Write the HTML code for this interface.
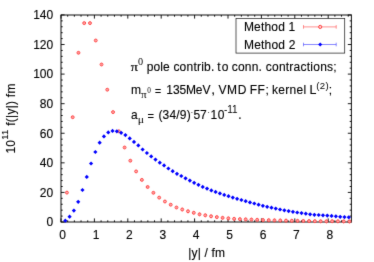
<!DOCTYPE html>
<html><head><meta charset="utf-8"><style>
html,body{margin:0;padding:0;background:#fff;}
svg{display:block;filter:url(#soft)}
text{stroke:#000;stroke-width:0.12px}
</style></head><body>
<svg width="374" height="262" viewBox="0 0 374 262">
<defs><filter id="soft" x="0" y="0" width="100%" height="100%" color-interpolation-filters="sRGB"><feConvolveMatrix order="3" kernelMatrix="0.01 0.07 0.01 0.07 0.68 0.07 0.01 0.07 0.01" edgeMode="duplicate" preserveAlpha="true"/></filter></defs>
<rect width="374" height="262" fill="#fff"/>
<rect x="61.0" y="15.0" width="290.4" height="207.0" fill="none" stroke="#1a1a1a" stroke-width="1.05"/>
<path d="M61.00 222.0v-3.6M61.00 15.0v3.6M67.68 222.0v-1.7M67.68 15.0v1.7M74.36 222.0v-1.7M74.36 15.0v1.7M81.04 222.0v-1.7M81.04 15.0v1.7M87.72 222.0v-1.7M87.72 15.0v1.7M94.40 222.0v-3.6M94.40 15.0v3.6M101.08 222.0v-1.7M101.08 15.0v1.7M107.76 222.0v-1.7M107.76 15.0v1.7M114.44 222.0v-1.7M114.44 15.0v1.7M121.12 222.0v-1.7M121.12 15.0v1.7M127.80 222.0v-3.6M127.80 15.0v3.6M134.48 222.0v-1.7M134.48 15.0v1.7M141.16 222.0v-1.7M141.16 15.0v1.7M147.84 222.0v-1.7M147.84 15.0v1.7M154.52 222.0v-1.7M154.52 15.0v1.7M161.20 222.0v-3.6M161.20 15.0v3.6M167.88 222.0v-1.7M167.88 15.0v1.7M174.56 222.0v-1.7M174.56 15.0v1.7M181.24 222.0v-1.7M181.24 15.0v1.7M187.92 222.0v-1.7M187.92 15.0v1.7M194.60 222.0v-3.6M194.60 15.0v3.6M201.28 222.0v-1.7M201.28 15.0v1.7M207.96 222.0v-1.7M207.96 15.0v1.7M214.64 222.0v-1.7M214.64 15.0v1.7M221.32 222.0v-1.7M221.32 15.0v1.7M228.00 222.0v-3.6M228.00 15.0v3.6M234.68 222.0v-1.7M234.68 15.0v1.7M241.36 222.0v-1.7M241.36 15.0v1.7M248.04 222.0v-1.7M248.04 15.0v1.7M254.72 222.0v-1.7M254.72 15.0v1.7M261.40 222.0v-3.6M261.40 15.0v3.6M268.08 222.0v-1.7M268.08 15.0v1.7M274.76 222.0v-1.7M274.76 15.0v1.7M281.44 222.0v-1.7M281.44 15.0v1.7M288.12 222.0v-1.7M288.12 15.0v1.7M294.80 222.0v-3.6M294.80 15.0v3.6M301.48 222.0v-1.7M301.48 15.0v1.7M308.16 222.0v-1.7M308.16 15.0v1.7M314.84 222.0v-1.7M314.84 15.0v1.7M321.52 222.0v-1.7M321.52 15.0v1.7M328.20 222.0v-3.6M328.20 15.0v3.6M334.88 222.0v-1.7M334.88 15.0v1.7M341.56 222.0v-1.7M341.56 15.0v1.7M348.24 222.0v-1.7M348.24 15.0v1.7M61.0 222.00h3.6M351.4 222.00h-3.6M61.0 216.08h1.7M351.4 216.08h-1.7M61.0 210.17h1.7M351.4 210.17h-1.7M61.0 204.25h1.7M351.4 204.25h-1.7M61.0 198.34h1.7M351.4 198.34h-1.7M61.0 192.42h3.6M351.4 192.42h-3.6M61.0 186.50h1.7M351.4 186.50h-1.7M61.0 180.59h1.7M351.4 180.59h-1.7M61.0 174.67h1.7M351.4 174.67h-1.7M61.0 168.76h1.7M351.4 168.76h-1.7M61.0 162.84h3.6M351.4 162.84h-3.6M61.0 156.92h1.7M351.4 156.92h-1.7M61.0 151.01h1.7M351.4 151.01h-1.7M61.0 145.09h1.7M351.4 145.09h-1.7M61.0 139.18h1.7M351.4 139.18h-1.7M61.0 133.26h3.6M351.4 133.26h-3.6M61.0 127.34h1.7M351.4 127.34h-1.7M61.0 121.43h1.7M351.4 121.43h-1.7M61.0 115.51h1.7M351.4 115.51h-1.7M61.0 109.60h1.7M351.4 109.60h-1.7M61.0 103.68h3.6M351.4 103.68h-3.6M61.0 97.76h1.7M351.4 97.76h-1.7M61.0 91.85h1.7M351.4 91.85h-1.7M61.0 85.93h1.7M351.4 85.93h-1.7M61.0 80.02h1.7M351.4 80.02h-1.7M61.0 74.10h3.6M351.4 74.10h-3.6M61.0 68.18h1.7M351.4 68.18h-1.7M61.0 62.27h1.7M351.4 62.27h-1.7M61.0 56.35h1.7M351.4 56.35h-1.7M61.0 50.44h1.7M351.4 50.44h-1.7M61.0 44.52h3.6M351.4 44.52h-3.6M61.0 38.60h1.7M351.4 38.60h-1.7M61.0 32.69h1.7M351.4 32.69h-1.7M61.0 26.77h1.7M351.4 26.77h-1.7M61.0 20.86h1.7M351.4 20.86h-1.7M61.0 14.94h3.6M351.4 14.94h-3.6" stroke="#000" stroke-width="0.9" fill="none"/>
<circle cx="66.92" cy="192.60" r="1.45" fill="#ffd0d0" stroke="#ff3c3c" stroke-width="0.95"/>
<path d="M66.92 191.40V193.80" stroke="#ff5050" stroke-width="0.5"/>
<circle cx="72.68" cy="117.20" r="1.45" fill="#ffd0d0" stroke="#ff3c3c" stroke-width="0.95"/>
<path d="M72.68 116.00V118.40" stroke="#ff5050" stroke-width="0.5"/>
<circle cx="78.45" cy="52.80" r="1.45" fill="#ffd0d0" stroke="#ff3c3c" stroke-width="0.95"/>
<path d="M78.45 51.60V54.00" stroke="#ff5050" stroke-width="0.5"/>
<circle cx="84.21" cy="23.10" r="1.45" fill="#ffd0d0" stroke="#ff3c3c" stroke-width="0.95"/>
<path d="M84.21 21.90V24.30" stroke="#ff5050" stroke-width="0.5"/>
<circle cx="89.98" cy="23.10" r="1.45" fill="#ffd0d0" stroke="#ff3c3c" stroke-width="0.95"/>
<path d="M89.98 21.90V24.30" stroke="#ff5050" stroke-width="0.5"/>
<circle cx="95.75" cy="40.50" r="1.45" fill="#ffd0d0" stroke="#ff3c3c" stroke-width="0.95"/>
<path d="M95.75 39.30V41.70" stroke="#ff5050" stroke-width="0.5"/>
<circle cx="101.51" cy="64.50" r="1.45" fill="#ffd0d0" stroke="#ff3c3c" stroke-width="0.95"/>
<path d="M101.51 63.30V65.70" stroke="#ff5050" stroke-width="0.5"/>
<circle cx="107.28" cy="89.70" r="1.45" fill="#ffd0d0" stroke="#ff3c3c" stroke-width="0.95"/>
<path d="M107.28 88.50V90.90" stroke="#ff5050" stroke-width="0.5"/>
<circle cx="113.04" cy="112.10" r="1.45" fill="#ffd0d0" stroke="#ff3c3c" stroke-width="0.95"/>
<path d="M113.04 110.90V113.30" stroke="#ff5050" stroke-width="0.5"/>
<circle cx="118.81" cy="131.30" r="1.45" fill="#ffd0d0" stroke="#ff3c3c" stroke-width="0.95"/>
<path d="M118.81 130.10V132.50" stroke="#ff5050" stroke-width="0.5"/>
<circle cx="124.58" cy="147.50" r="1.45" fill="#ffd0d0" stroke="#ff3c3c" stroke-width="0.95"/>
<path d="M124.58 146.30V148.70" stroke="#ff5050" stroke-width="0.5"/>
<circle cx="130.34" cy="160.70" r="1.45" fill="#ffd0d0" stroke="#ff3c3c" stroke-width="0.95"/>
<path d="M130.34 159.50V161.90" stroke="#ff5050" stroke-width="0.5"/>
<circle cx="136.11" cy="171.40" r="1.45" fill="#ffd0d0" stroke="#ff3c3c" stroke-width="0.95"/>
<path d="M136.11 170.20V172.60" stroke="#ff5050" stroke-width="0.5"/>
<circle cx="141.87" cy="179.90" r="1.45" fill="#ffd0d0" stroke="#ff3c3c" stroke-width="0.95"/>
<path d="M141.87 178.70V181.10" stroke="#ff5050" stroke-width="0.5"/>
<circle cx="147.64" cy="187.00" r="1.45" fill="#ffd0d0" stroke="#ff3c3c" stroke-width="0.95"/>
<path d="M147.64 185.80V188.20" stroke="#ff5050" stroke-width="0.5"/>
<circle cx="153.41" cy="192.80" r="1.45" fill="#ffd0d0" stroke="#ff3c3c" stroke-width="0.95"/>
<path d="M153.41 191.60V194.00" stroke="#ff5050" stroke-width="0.5"/>
<circle cx="159.17" cy="197.60" r="1.45" fill="#ffd0d0" stroke="#ff3c3c" stroke-width="0.95"/>
<path d="M159.17 196.40V198.80" stroke="#ff5050" stroke-width="0.5"/>
<circle cx="164.94" cy="201.50" r="1.45" fill="#ffd0d0" stroke="#ff3c3c" stroke-width="0.95"/>
<path d="M164.94 200.30V202.70" stroke="#ff5050" stroke-width="0.5"/>
<circle cx="170.70" cy="204.70" r="1.45" fill="#ffd0d0" stroke="#ff3c3c" stroke-width="0.95"/>
<path d="M170.70 203.50V205.90" stroke="#ff5050" stroke-width="0.5"/>
<circle cx="176.47" cy="207.50" r="1.45" fill="#ffd0d0" stroke="#ff3c3c" stroke-width="0.95"/>
<path d="M176.47 206.30V208.70" stroke="#ff5050" stroke-width="0.5"/>
<circle cx="182.24" cy="209.50" r="1.45" fill="#ffd0d0" stroke="#ff3c3c" stroke-width="0.95"/>
<path d="M182.24 207.50V211.50" stroke="#ff5050" stroke-width="0.5"/>
<circle cx="188.00" cy="211.30" r="1.45" fill="#ffd0d0" stroke="#ff3c3c" stroke-width="0.95"/>
<path d="M188.00 209.30V213.30" stroke="#ff5050" stroke-width="0.5"/>
<circle cx="193.77" cy="212.80" r="1.45" fill="#ffd0d0" stroke="#ff3c3c" stroke-width="0.95"/>
<path d="M193.77 210.80V214.80" stroke="#ff5050" stroke-width="0.5"/>
<circle cx="199.53" cy="214.30" r="1.45" fill="#ffd0d0" stroke="#ff3c3c" stroke-width="0.95"/>
<path d="M199.53 212.30V216.30" stroke="#ff5050" stroke-width="0.5"/>
<circle cx="205.30" cy="215.30" r="1.45" fill="#ffd0d0" stroke="#ff3c3c" stroke-width="0.95"/>
<path d="M205.30 213.30V217.30" stroke="#ff5050" stroke-width="0.5"/>
<circle cx="211.07" cy="216.30" r="1.45" fill="#ffd0d0" stroke="#ff3c3c" stroke-width="0.95"/>
<path d="M211.07 214.30V218.30" stroke="#ff5050" stroke-width="0.5"/>
<circle cx="216.83" cy="217.10" r="1.45" fill="#ffd0d0" stroke="#ff3c3c" stroke-width="0.95"/>
<path d="M216.83 215.10V219.10" stroke="#ff5050" stroke-width="0.5"/>
<circle cx="222.60" cy="217.85" r="1.45" fill="#ffd0d0" stroke="#ff3c3c" stroke-width="0.95"/>
<path d="M222.60 215.85V219.85" stroke="#ff5050" stroke-width="0.5"/>
<circle cx="228.36" cy="218.35" r="1.45" fill="#ffd0d0" stroke="#ff3c3c" stroke-width="0.95"/>
<path d="M228.36 216.35V220.35" stroke="#ff5050" stroke-width="0.5"/>
<circle cx="234.13" cy="218.85" r="1.45" fill="#ffd0d0" stroke="#ff3c3c" stroke-width="0.95"/>
<path d="M234.13 216.85V220.85" stroke="#ff5050" stroke-width="0.5"/>
<circle cx="239.90" cy="219.15" r="1.45" fill="#ffd0d0" stroke="#ff3c3c" stroke-width="0.95"/>
<path d="M239.90 217.15V221.15" stroke="#ff5050" stroke-width="0.5"/>
<circle cx="245.66" cy="219.38" r="1.45" fill="#ffd0d0" stroke="#ff3c3c" stroke-width="0.95"/>
<path d="M245.66 217.38V221.38" stroke="#ff5050" stroke-width="0.5"/>
<circle cx="251.43" cy="219.60" r="1.45" fill="#ffd0d0" stroke="#ff3c3c" stroke-width="0.95"/>
<path d="M251.43 217.60V221.60" stroke="#ff5050" stroke-width="0.5"/>
<circle cx="257.19" cy="219.83" r="1.45" fill="#ffd0d0" stroke="#ff3c3c" stroke-width="0.95"/>
<path d="M257.19 217.83V221.83" stroke="#ff5050" stroke-width="0.5"/>
<circle cx="262.96" cy="220.05" r="1.45" fill="#ffd0d0" stroke="#ff3c3c" stroke-width="0.95"/>
<path d="M262.96 218.05V222.05" stroke="#ff5050" stroke-width="0.5"/>
<circle cx="268.73" cy="220.19" r="1.45" fill="#ffd0d0" stroke="#ff3c3c" stroke-width="0.95"/>
<path d="M268.73 218.19V222.19" stroke="#ff5050" stroke-width="0.5"/>
<circle cx="274.49" cy="220.33" r="1.45" fill="#ffd0d0" stroke="#ff3c3c" stroke-width="0.95"/>
<path d="M274.49 218.33V222.33" stroke="#ff5050" stroke-width="0.5"/>
<circle cx="280.26" cy="220.47" r="1.45" fill="#ffd0d0" stroke="#ff3c3c" stroke-width="0.95"/>
<path d="M280.26 218.47V222.47" stroke="#ff5050" stroke-width="0.5"/>
<circle cx="286.02" cy="220.61" r="1.45" fill="#ffd0d0" stroke="#ff3c3c" stroke-width="0.95"/>
<path d="M286.02 218.61V222.61" stroke="#ff5050" stroke-width="0.5"/>
<circle cx="291.79" cy="220.75" r="1.45" fill="#ffd0d0" stroke="#ff3c3c" stroke-width="0.95"/>
<path d="M291.79 218.75V222.75" stroke="#ff5050" stroke-width="0.5"/>
<circle cx="297.56" cy="220.85" r="1.45" fill="#ffd0d0" stroke="#ff3c3c" stroke-width="0.95"/>
<path d="M297.56 218.85V222.85" stroke="#ff5050" stroke-width="0.5"/>
<circle cx="303.32" cy="220.95" r="1.45" fill="#ffd0d0" stroke="#ff3c3c" stroke-width="0.95"/>
<path d="M303.32 218.95V222.95" stroke="#ff5050" stroke-width="0.5"/>
<circle cx="309.09" cy="221.05" r="1.45" fill="#ffd0d0" stroke="#ff3c3c" stroke-width="0.95"/>
<path d="M309.09 219.05V223.05" stroke="#ff5050" stroke-width="0.5"/>
<circle cx="314.85" cy="221.15" r="1.45" fill="#ffd0d0" stroke="#ff3c3c" stroke-width="0.95"/>
<path d="M314.85 219.15V223.15" stroke="#ff5050" stroke-width="0.5"/>
<circle cx="320.62" cy="221.25" r="1.45" fill="#ffd0d0" stroke="#ff3c3c" stroke-width="0.95"/>
<path d="M320.62 219.25V223.25" stroke="#ff5050" stroke-width="0.5"/>
<circle cx="326.39" cy="221.35" r="1.45" fill="#ffd0d0" stroke="#ff3c3c" stroke-width="0.95"/>
<path d="M326.39 219.35V223.35" stroke="#ff5050" stroke-width="0.5"/>
<circle cx="332.15" cy="221.20" r="1.45" fill="#ffd0d0" stroke="#ff3c3c" stroke-width="0.95"/>
<path d="M332.15 219.20V223.20" stroke="#ff5050" stroke-width="0.5"/>
<circle cx="337.92" cy="221.30" r="1.45" fill="#ffd0d0" stroke="#ff3c3c" stroke-width="0.95"/>
<path d="M337.92 219.30V223.30" stroke="#ff5050" stroke-width="0.5"/>
<circle cx="343.68" cy="221.40" r="1.45" fill="#ffd0d0" stroke="#ff3c3c" stroke-width="0.95"/>
<path d="M343.68 219.40V223.40" stroke="#ff5050" stroke-width="0.5"/>
<circle cx="349.45" cy="221.50" r="1.45" fill="#ffd0d0" stroke="#ff3c3c" stroke-width="0.95"/>
<path d="M349.45 219.50V223.50" stroke="#ff5050" stroke-width="0.5"/>
<path d="M65.30 218.60L67.39 220.70L65.30 222.80L63.20 220.70Z" fill="#0000ff"/>
<path d="M69.59 214.60L71.69 216.70L69.59 218.80L67.49 216.70Z" fill="#0000ff"/>
<path d="M73.89 208.50L75.98 210.60L73.89 212.70L71.79 210.60Z" fill="#0000ff"/>
<path d="M78.18 199.70L80.28 201.80L78.18 203.90L76.08 201.80Z" fill="#0000ff"/>
<path d="M82.47 187.90L84.57 190.00L82.47 192.10L80.38 190.00Z" fill="#0000ff"/>
<path d="M86.77 174.80L88.87 176.90L86.77 179.00L84.67 176.90Z" fill="#0000ff"/>
<path d="M91.06 161.40L93.16 163.50L91.06 165.60L88.97 163.50Z" fill="#0000ff"/>
<path d="M95.36 149.90L97.46 152.00L95.36 154.10L93.26 152.00Z" fill="#0000ff"/>
<path d="M99.66 140.60L101.75 142.70L99.66 144.80L97.56 142.70Z" fill="#0000ff"/>
<path d="M103.95 134.30L106.05 136.40L103.95 138.50L101.85 136.40Z" fill="#0000ff"/>
<path d="M108.25 130.35L110.34 132.45L108.25 134.55L106.15 132.45Z" fill="#0000ff"/>
<path d="M112.54 128.80L114.64 130.90L112.54 133.00L110.44 130.90Z" fill="#0000ff"/>
<path d="M116.84 129.20L118.94 131.30L116.84 133.40L114.74 131.30Z" fill="#0000ff"/>
<path d="M121.13 130.70L123.23 132.80L121.13 134.90L119.03 132.80Z" fill="#0000ff"/>
<path d="M125.42 133.00L127.52 135.10L125.42 137.20L123.33 135.10Z" fill="#0000ff"/>
<path d="M129.72 136.30L131.82 138.40L129.72 140.50L127.62 138.40Z" fill="#0000ff"/>
<path d="M134.01 139.80L136.11 141.90L134.01 144.00L131.91 141.90Z" fill="#0000ff"/>
<path d="M138.31 143.30L140.41 145.40L138.31 147.50L136.21 145.40Z" fill="#0000ff"/>
<path d="M142.61 147.40L144.71 149.50L142.61 151.60L140.51 149.50Z" fill="#0000ff"/>
<path d="M146.90 150.90L149.00 153.00L146.90 155.10L144.80 153.00Z" fill="#0000ff"/>
<path d="M151.19 154.30L153.29 156.40L151.19 158.50L149.09 156.40Z" fill="#0000ff"/>
<path d="M155.49 157.50L157.59 159.60L155.49 161.70L153.39 159.60Z" fill="#0000ff"/>
<path d="M159.78 160.60L161.88 162.70L159.78 164.80L157.69 162.70Z" fill="#0000ff"/>
<path d="M164.08 163.30L166.18 165.40L164.08 167.50L161.98 165.40Z" fill="#0000ff"/>
<path d="M168.38 166.40L170.47 168.50L168.38 170.60L166.28 168.50Z" fill="#0000ff"/>
<path d="M172.67 169.10L174.77 171.20L172.67 173.30L170.57 171.20Z" fill="#0000ff"/>
<path d="M176.97 171.70L179.06 173.80L176.97 175.90L174.87 173.80Z" fill="#0000ff"/>
<path d="M181.26 173.90L183.36 176.00L181.26 178.10L179.16 176.00Z" fill="#0000ff"/>
<path d="M185.56 176.20L187.66 178.30L185.56 180.40L183.46 178.30Z" fill="#0000ff"/>
<path d="M189.85 178.50L191.95 180.60L189.85 182.70L187.75 180.60Z" fill="#0000ff"/>
<path d="M194.15 180.70L196.25 182.80L194.15 184.90L192.05 182.80Z" fill="#0000ff"/>
<path d="M198.44 182.70L200.54 184.80L198.44 186.90L196.34 184.80Z" fill="#0000ff"/>
<path d="M202.73 184.80L204.83 186.90L202.73 189.00L200.63 186.90Z" fill="#0000ff"/>
<path d="M207.03 186.50L209.13 188.60L207.03 190.70L204.93 188.60Z" fill="#0000ff"/>
<path d="M211.32 188.30L213.42 190.40L211.32 192.50L209.22 190.40Z" fill="#0000ff"/>
<path d="M215.62 189.80L217.72 191.90L215.62 194.00L213.52 191.90Z" fill="#0000ff"/>
<path d="M219.91 191.30L222.01 193.40L219.91 195.50L217.81 193.40Z" fill="#0000ff"/>
<path d="M224.21 192.80L226.31 194.90L224.21 197.00L222.11 194.90Z" fill="#0000ff"/>
<path d="M228.50 194.10L230.60 196.20L228.50 198.30L226.41 196.20Z" fill="#0000ff"/>
<path d="M232.80 195.50L234.90 197.60L232.80 199.70L230.70 197.60Z" fill="#0000ff"/>
<path d="M237.09 196.70L239.19 198.80L237.09 200.90L235.00 198.80Z" fill="#0000ff"/>
<path d="M241.39 197.90L243.49 200.00L241.39 202.10L239.29 200.00Z" fill="#0000ff"/>
<path d="M245.69 199.10L247.78 201.20L245.69 203.30L243.59 201.20Z" fill="#0000ff"/>
<path d="M249.98 200.30L252.08 202.40L249.98 204.50L247.88 202.40Z" fill="#0000ff"/>
<path d="M254.28 201.40L256.38 203.50L254.28 205.60L252.18 203.50Z" fill="#0000ff"/>
<path d="M258.57 202.60L260.67 204.70L258.57 206.80L256.47 204.70Z" fill="#0000ff"/>
<path d="M262.87 203.70L264.97 205.80L262.87 207.90L260.76 205.80Z" fill="#0000ff"/>
<path d="M267.16 204.70L269.26 206.80L267.16 208.90L265.06 206.80Z" fill="#0000ff"/>
<path d="M271.45 205.60L273.56 207.70L271.45 209.80L269.35 207.70Z" fill="#0000ff"/>
<path d="M275.75 206.50L277.85 208.60L275.75 210.70L273.65 208.60Z" fill="#0000ff"/>
<path d="M280.04 207.40L282.14 209.50L280.04 211.60L277.94 209.50Z" fill="#0000ff"/>
<path d="M284.34 208.20L286.44 210.30L284.34 212.40L282.24 210.30Z" fill="#0000ff"/>
<path d="M288.63 209.00L290.74 211.10L288.63 213.20L286.53 211.10Z" fill="#0000ff"/>
<path d="M292.93 209.70L295.03 211.80L292.93 213.90L290.83 211.80Z" fill="#0000ff"/>
<path d="M297.23 210.40L299.33 212.50L297.23 214.60L295.12 212.50Z" fill="#0000ff"/>
<path d="M301.52 211.00L303.62 213.10L301.52 215.20L299.42 213.10Z" fill="#0000ff"/>
<path d="M305.81 211.60L307.92 213.70L305.81 215.80L303.71 213.70Z" fill="#0000ff"/>
<path d="M310.11 212.20L312.21 214.30L310.11 216.40L308.01 214.30Z" fill="#0000ff"/>
<path d="M314.40 212.70L316.50 214.80L314.40 216.90L312.30 214.80Z" fill="#0000ff"/>
<path d="M318.70 212.90L320.80 215.00L318.70 217.10L316.60 215.00Z" fill="#0000ff"/>
<path d="M323.00 213.20L325.10 215.30L323.00 217.40L320.89 215.30Z" fill="#0000ff"/>
<path d="M327.29 213.50L329.39 215.60L327.29 217.70L325.19 215.60Z" fill="#0000ff"/>
<path d="M331.58 213.80L333.69 215.90L331.58 218.00L329.48 215.90Z" fill="#0000ff"/>
<path d="M335.88 214.20L337.98 216.30L335.88 218.40L333.78 216.30Z" fill="#0000ff"/>
<path d="M340.18 214.70L342.28 216.80L340.18 218.90L338.07 216.80Z" fill="#0000ff"/>
<path d="M344.47 214.95L346.57 217.05L344.47 219.15L342.37 217.05Z" fill="#0000ff"/>
<path d="M348.76 215.20L350.87 217.30L348.76 219.40L346.66 217.30Z" fill="#0000ff"/>
<rect x="236" y="18.6" width="108.7" height="34.5" fill="#fff" stroke="#222" stroke-width="0.75"/>
<path d="M303.5 26.9H336.2M303.5 25.1v3.6M336.2 25.1v3.6" stroke="#ff6060" stroke-width="0.7" fill="none"/>
<circle cx="320.2" cy="26.9" r="1.6" fill="#ffd0d0" stroke="#ff4040" stroke-width="1"/>
<path d="M303.5 44.5H336.2M303.5 42.7v3.6M336.2 42.7v3.6" stroke="#4848ff" stroke-width="0.65" fill="none"/>
<path d="M320.2 42.4l2.1 2.1l-2.1 2.1l-2.1-2.1Z" fill="#0000ff"/>
<text x="53.2" y="226.30" text-anchor="end" font-family="Liberation Sans, sans-serif" font-size="12">0</text>
<text x="53.2" y="196.72" text-anchor="end" font-family="Liberation Sans, sans-serif" font-size="12">20</text>
<text x="53.2" y="167.14" text-anchor="end" font-family="Liberation Sans, sans-serif" font-size="12">40</text>
<text x="53.2" y="137.56" text-anchor="end" font-family="Liberation Sans, sans-serif" font-size="12">60</text>
<text x="53.2" y="107.98" text-anchor="end" font-family="Liberation Sans, sans-serif" font-size="12">80</text>
<text x="53.2" y="78.40" text-anchor="end" font-family="Liberation Sans, sans-serif" font-size="12">100</text>
<text x="53.2" y="48.82" text-anchor="end" font-family="Liberation Sans, sans-serif" font-size="12">120</text>
<text x="53.2" y="19.24" text-anchor="end" font-family="Liberation Sans, sans-serif" font-size="12">140</text>
<text x="62.60" y="238.6" text-anchor="middle" font-family="Liberation Sans, sans-serif" font-size="12">0</text>
<text x="96.00" y="238.6" text-anchor="middle" font-family="Liberation Sans, sans-serif" font-size="12">1</text>
<text x="129.40" y="238.6" text-anchor="middle" font-family="Liberation Sans, sans-serif" font-size="12">2</text>
<text x="162.80" y="238.6" text-anchor="middle" font-family="Liberation Sans, sans-serif" font-size="12">3</text>
<text x="196.20" y="238.6" text-anchor="middle" font-family="Liberation Sans, sans-serif" font-size="12">4</text>
<text x="229.60" y="238.6" text-anchor="middle" font-family="Liberation Sans, sans-serif" font-size="12">5</text>
<text x="263.00" y="238.6" text-anchor="middle" font-family="Liberation Sans, sans-serif" font-size="12">6</text>
<text x="296.40" y="238.6" text-anchor="middle" font-family="Liberation Sans, sans-serif" font-size="12">7</text>
<text x="329.80" y="238.6" text-anchor="middle" font-family="Liberation Sans, sans-serif" font-size="12">8</text>
<text transform="translate(15.1,153.6) rotate(-90)" font-family="Liberation Sans, sans-serif" font-size="12" letter-spacing="0.24">10<tspan font-size="9.6" dy="-6.8">11</tspan><tspan dy="6.8"> f(|y|) fm</tspan></text>
<text transform="translate(130.66,71) scale(1.198,1)" font-family="Liberation Serif" font-size="12" style="stroke-width:0.2px">π</text>
<text transform="translate(138.09,65) scale(1.044,1)" font-family="Liberation Serif" font-size="9.8" style="stroke-width:0">0</text>
<text x="146.68" y="71" font-family="Liberation Sans" font-size="12" letter-spacing="0.122">pole</text>
<text x="173.42" y="71" font-family="Liberation Sans" font-size="12" letter-spacing="0.212">contrib.</text>
<text x="217.28" y="71" font-family="Liberation Sans" font-size="12" letter-spacing="1.046">to</text>
<text x="231.72" y="71" font-family="Liberation Sans" font-size="12" letter-spacing="0.220">conn.</text>
<text x="265.72" y="71" font-family="Liberation Sans" font-size="12" letter-spacing="0.242">contractions;</text>
<text transform="translate(131.07,94) scale(1.009,1)" font-family="Liberation Sans" font-size="12">m</text>
<text transform="translate(140.89,98) scale(1.172,1)" font-family="Liberation Serif" font-size="9.6" style="stroke-width:0">π</text>
<text transform="translate(147.28,93) scale(0.996,1)" font-family="Liberation Serif" font-size="7.3" style="stroke-width:0">0</text>
<text transform="translate(154.98,95) scale(1.040,1)" font-family="Liberation Sans" font-size="10">=</text>
<text x="166.36" y="94" font-family="Liberation Sans" font-size="12" letter-spacing="-0.100">135M</text>
<text x="195.67" y="94" font-family="Liberation Sans" font-size="12" letter-spacing="0.116">eV</text>
<text transform="translate(211.31,94) scale(1.136,1)" font-family="Liberation Sans" font-size="12">,</text>
<text x="218.40" y="94" font-family="Liberation Sans" font-size="12" letter-spacing="0.645">VMD</text>
<text x="249.74" y="94" font-family="Liberation Sans" font-size="12" letter-spacing="0.510">FF;</text>
<text x="271.98" y="94" font-family="Liberation Sans" font-size="12" letter-spacing="0.316">kernel</text>
<text transform="translate(309.60,94) scale(1.037,1)" font-family="Liberation Sans" font-size="12">L</text>
<text x="316.22" y="89" font-family="Liberation Sans" font-size="9.6" letter-spacing="0.426" style="stroke-width:0">(2)</text>
<text transform="translate(328.74,94) scale(1.000,1)" font-family="Liberation Sans" font-size="12">;</text>
<text transform="translate(131.12,119) scale(0.994,1)" font-family="Liberation Sans" font-size="12">a</text>
<text transform="translate(137.87,122.6) scale(1.215,1)" font-family="Liberation Serif" font-size="9.6" style="stroke-width:0">μ</text>
<text transform="translate(147.56,120) scale(1.100,1)" font-family="Liberation Sans" font-size="10">=</text>
<text x="158.38" y="119" font-family="Liberation Sans" font-size="12" letter-spacing="0.182">(34/9)</text>
<text transform="translate(190.78,113) scale(1.000,1)" font-family="Liberation Sans" font-size="8">.</text>
<text x="193.47" y="119" font-family="Liberation Sans" font-size="12" letter-spacing="-0.264">57</text>
<text transform="translate(207.38,113) scale(1.000,1)" font-family="Liberation Sans" font-size="8">.</text>
<text x="210.61" y="119" font-family="Liberation Sans" font-size="12" letter-spacing="0.376">10</text>
<text x="223.95" y="113" font-family="Liberation Sans" font-size="10" letter-spacing="0.000" style="stroke-width:0">-11</text>
<text transform="translate(238.22,119) scale(1.000,1)" font-family="Liberation Sans" font-size="12">.</text>
<text x="243.94" y="31" font-family="Liberation Sans" font-size="12" letter-spacing="0.183">Method 1</text>
<text x="243.94" y="49" font-family="Liberation Sans" font-size="12" letter-spacing="0.212">Method 2</text>
<text x="188.34" y="257.2" font-family="Liberation Sans" font-size="12" letter-spacing="0.164">|y| / fm</text>
</svg>
</body></html>
